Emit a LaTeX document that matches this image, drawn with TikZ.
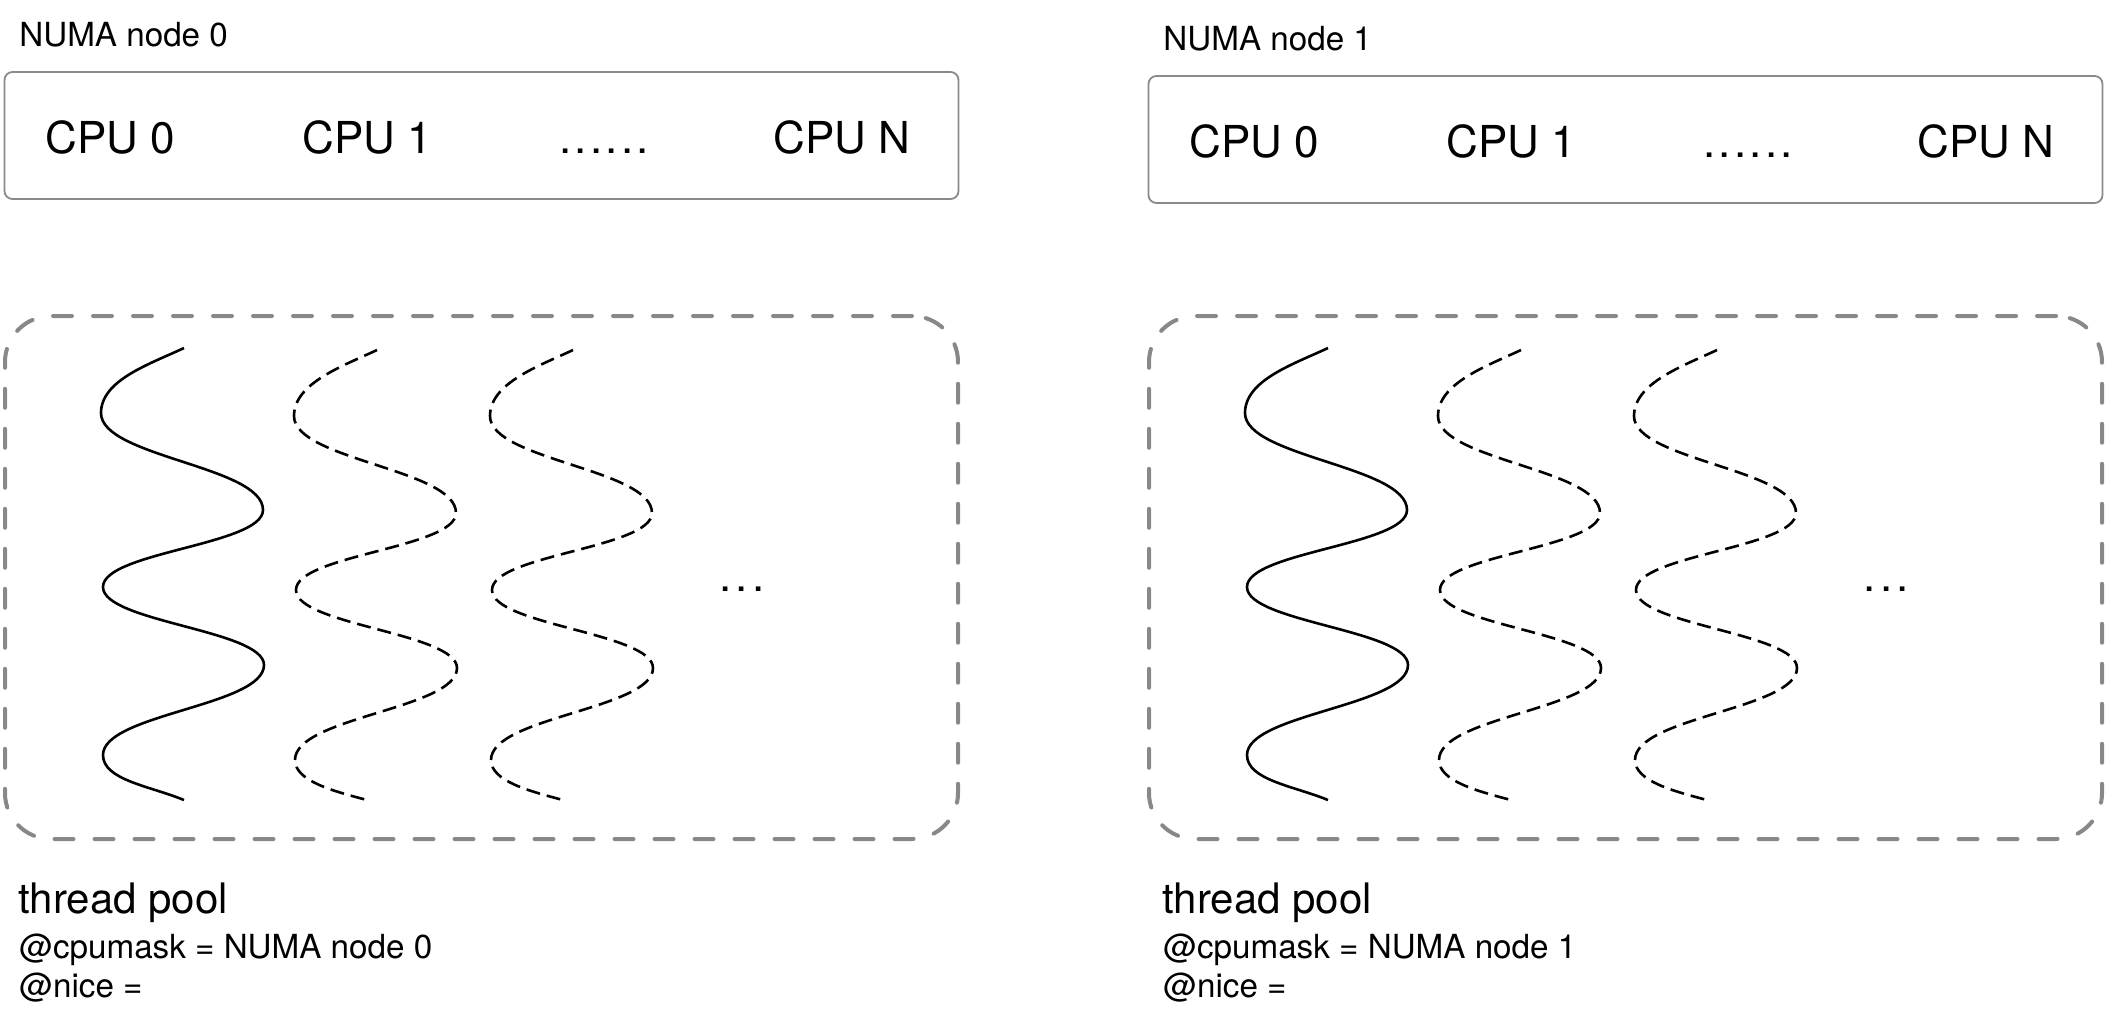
\documentclass[tikz,border=0pt]{standalone}
\usepackage{fontspec}
\setmainfont{TeX Gyre Heros}
\definecolor{boxgray}{HTML}{8A8A8A}
\definecolor{poolgray}{HTML}{888888}
\newcommand\mywavepath{(184,348) .. controls (150,364) and (101,380) .. (101,413)
 .. controls (101,457) and (263,466) .. (263,510)
 .. controls (263,545) and (103,552) .. (103,587)
 .. controls (103,622) and (264,630) .. (264,665)
 .. controls (264,706) and (103,714) .. (103,755)
 .. controls (103,780) and (150,786) .. (184,800)}
\newcommand\myidlepath{(184,347) .. controls (150,363) and (101,380) .. (101,413)
 .. controls (101,457) and (263,466) .. (263,510)
 .. controls (263,545) and (103,552) .. (103,587)
 .. controls (103,622) and (264,630) .. (264,665)
 .. controls (264,706) and (102,714) .. (102,757)
 .. controls (102,778) and (140,788) .. (174,797)}
\begin{document}
\begin{tikzpicture}[x=0.5pt,y=-0.5pt,
  cpubox/.style={draw=boxgray, line width=0.9pt, rounded corners=4pt,
    minimum width=477pt, minimum height=63.5pt, inner sep=0pt},
  poolbox/.style={draw=poolgray, line width=2pt, rounded corners=23pt,
    dash pattern=on 9.5pt off 10.5pt, line cap=round,
    minimum width=476.5pt, minimum height=261.5pt, inner sep=0pt},
  big/.style={font=\fontsize{22}{26}\selectfont, inner sep=0pt, anchor=base west},
  title/.style={font=\fontsize{21}{25}\selectfont, inner sep=0pt, anchor=base west},
  small/.style={font=\fontsize{16.6}{20}\selectfont, inner sep=0pt, anchor=base west},
  thread/.style={line width=1.3pt},
  idle/.style={line width=1.3pt, dash pattern=on 7pt off 3.5pt}]
\useasboundingbox (0,0) rectangle (2105,1024);
\foreach \dx/\n/\dy in {0/0/0, 1144/1/4}{
  \begin{scope}[shift={(\dx,0)}]
    % NUMA node header
    \node[small] (numa\n) at (19,{46+\dy}) {NUMA node \n};
    \node[cpubox] (cpus\n) at (481.5,{135.5+\dy}) {};
    \node[big] (cpua\n) at (45,{153+\dy}) {CPU 0};
    \node[big] (cpub\n) at (302,{153+\dy}) {CPU 1};
    \node[big] (cpudots\n) at (559,{153+\dy}) {.\kern1.6pt.\kern1.6pt.\kern1.6pt.\kern1.6pt.\kern1.6pt.};
    \node[big] (cpun\n) at (773,{153+\dy}) {CPU N};
    % thread pool
    \node[poolbox] (pool\n) at (481.5,577.5) {};
    \draw[thread] \mywavepath;
    \draw[idle, shift={(193,3)}] \myidlepath;
    \draw[idle, shift={(389,3)}] \myidlepath;
    \node[big] (tdots\n) at (719,591) {.\kern2.2pt.\kern2.2pt.};
    % labels
    \node[title] (tp\n) at (18,913) {thread pool};
    \node[small] (mask\n) at (19,958) {@cpumask = NUMA node \n};
    \node[small] (nice\n) at (19,997) {@nice =};
  \end{scope}
}
\end{tikzpicture}
\end{document}
